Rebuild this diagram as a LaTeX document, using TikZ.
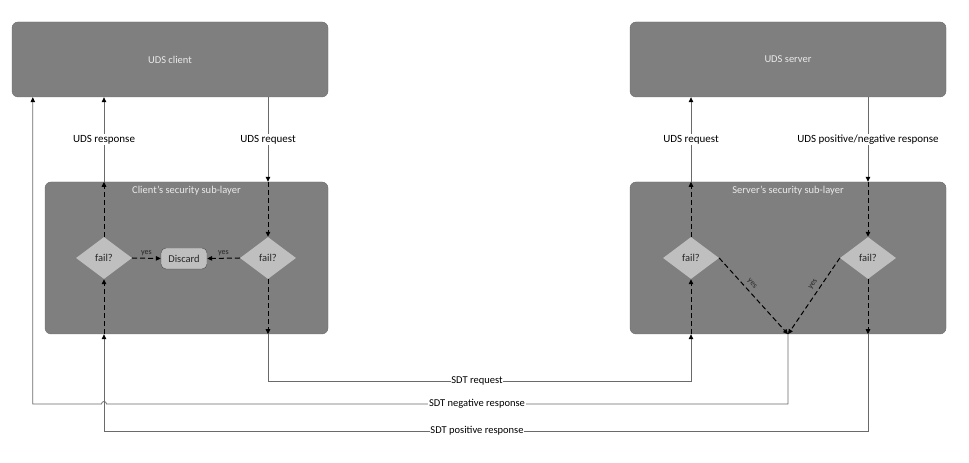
\documentclass[tikz,border=0pt]{standalone}
\usepackage{fontspec}
\setmainfont{Carlito}
\usetikzlibrary{shapes.geometric,arrows.meta,calc}
\definecolor{boxgray}{HTML}{7F7F7F}
\definecolor{boxedge}{HTML}{6C6C6C}
\definecolor{diagray}{HTML}{BFBFBF}
\definecolor{linegray}{HTML}{6A6A6A}
\definecolor{paletext}{HTML}{EAEAEA}

\begin{document}
\begin{tikzpicture}[x=1pt, y=1pt,
    layer/.style={draw=boxedge, fill=boxgray, rounded corners=6pt, inner sep=0pt,
                  text=paletext, font=\fontsize{10.5}{12}\selectfont},
    laytitle/.style={text=paletext, inner sep=0pt, font=\fontsize{10.5}{12}\selectfont},
    check/.style={diamond, fill=diagray, aspect=1.33, minimum width=56pt, minimum height=42pt,
                  inner sep=0pt, text=black!85, font=\fontsize{10.5}{12}\selectfont},
    drop/.style={draw=black!70, fill=diagray, rounded corners=5pt, minimum width=46pt,
                 minimum height=21pt, inner sep=0pt, text=black!85, font=\fontsize{10.5}{12}\selectfont},
    arrowtip/.style={-{Triangle[length=5pt,width=4.5pt,black]}},
    wire/.style={arrowtip, draw=linegray, line width=0.8pt},
    dashwire/.style={arrowtip, draw=black, line width=1pt, dash pattern=on 5pt off 3pt},
    tag/.style={fill=white, inner sep=0.6pt, font=\fontsize{11}{13}\selectfont},
    sdt/.style={fill=white, inner sep=0.6pt, font=\fontsize{10.5}{12}\selectfont},
    yes/.style={inner sep=1pt, font=\fontsize{8}{9}\selectfont, text=black!85}]
    \useasboundingbox (0,0) rectangle (969,463);

    % top blocks
    \node[layer, minimum width=316pt, minimum height=75pt] (clnt) at (170,403.5) {UDS client};
    \node[layer, minimum width=316pt, minimum height=75pt] (srv) at (788,403.5) {UDS server};

    % security sub-layers
    \node[layer, minimum width=283pt, minimum height=152pt] (clay) at (186.5,205) {};
    \node[layer, minimum width=316pt, minimum height=152pt] (slay) at (788,205) {};
    \node[laytitle] (ctitle) at ([yshift=-9pt]clay.north) {Client's security sub-layer};
    \node[laytitle] (stitle) at ([yshift=-9pt]slay.north) {Server's security sub-layer};

    \node[check] (cfa) at (104,205) {fail?};
    \node[check] (cfb) at (268,205) {fail?};
    \node[drop] (disc) at (184,204.5) {Discard};
    \node[check] (sfa) at (691,205) {fail?};
    \node[check] (sfb) at (868,205) {fail?};

    \coordinate (sdtreq) at (477,82);
    \coordinate (sdtneg) at (477,59);
    \coordinate (sdtpos) at (477,32);
    \coordinate (negup) at ([xshift=21pt]clnt.south west);

    % request path
    \draw[wire] (cfb |- clnt.south) -- node[tag]{UDS request} (cfb |- clay.north);
    \draw[dashwire] (cfb |- clay.north) -- (cfb.north);
    \draw[dashwire] (cfb.south) -- (cfb |- clay.south);
    \draw[wire] (cfb |- clay.south) -- (cfb |- sdtreq) -- (sfa |- sdtreq) -- (sfa |- slay.south);
    \draw[dashwire] (sfa |- slay.south) -- (sfa.south);
    \draw[dashwire] (sfa.north) -- (sfa |- slay.north);
    \draw[wire] (sfa |- slay.north) -- node[tag]{UDS request} (sfa |- srv.south);

    % positive response path
    \draw[wire] (sfb |- srv.south) -- node[tag]{UDS positive/negative response} (sfb |- slay.north);
    \draw[dashwire] (sfb |- slay.north) -- (sfb.north);
    \draw[dashwire] (sfb.south) -- (sfb |- slay.south);
    \draw[wire] (sfb |- slay.south) -- (sfb |- sdtpos) -- (cfa |- sdtpos) -- (cfa |- clay.south);
    \draw[dashwire] (cfa |- clay.south) -- (cfa.south);
    \draw[dashwire] (cfa.north) -- (cfa |- clay.north);
    \draw[wire] (cfa |- clay.north) -- node[tag]{UDS response} (cfa |- clnt.south);

    % failed checks
    \draw[dashwire] (cfa.east) -- node[yes, above=1pt]{yes} (disc.west);
    \draw[dashwire] (cfb.west) -- node[yes, above=1pt]{yes} (disc.east);
    \draw[dashwire] (sfa.east) -- node[yes, above=3pt, sloped, pos=0.4]{yes} (slay.south);
    \draw[dashwire] (sfb.west) -- node[yes, above=3pt, sloped, pos=0.4]{yes} (slay.south);

    % negative response path
    \draw[wire] (slay.south) -- (slay.south |- sdtneg) -- ([xshift=2.5pt]cfa |- sdtneg)
        arc[start angle=0, end angle=180, radius=2.5pt] -- (negup |- sdtneg) -- (negup);

    \node[sdt] at (sdtreq) {SDT request};
    \node[sdt] at (sdtneg) {SDT negative response};
    \node[sdt] at (sdtpos) {SDT positive response};
\end{tikzpicture}
\end{document}
